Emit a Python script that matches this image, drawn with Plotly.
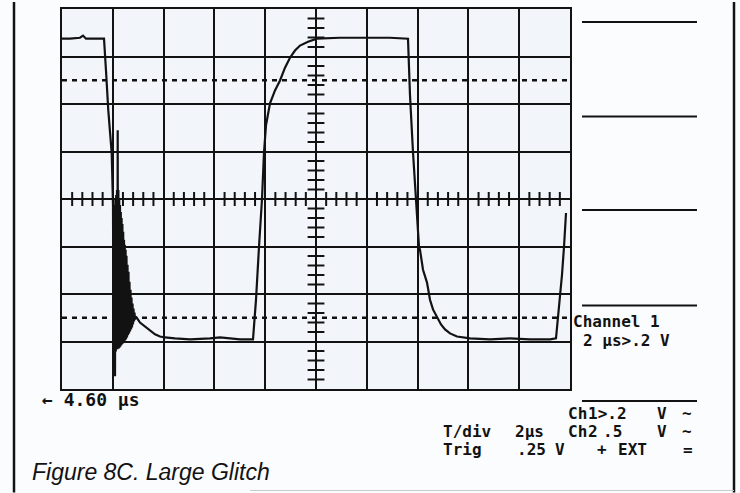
import plotly.graph_objects as go

# Scope capture: 2 us/div horizontally, 0.2 V/div vertically, 10 x 8 divisions.
# Time is measured from the left edge of the screen (which sits 4.60 us after trigger).
time_us = [
    # high level, then the falling edge
    0.000, 0.315, 0.709, 0.827, 0.945, 1.300, 1.654, 1.732, 1.823, 1.957, 2.008,
    # ringing burst right after the falling edge
    2.024, 2.039, 2.055, 2.071, 2.087, 2.102, 2.118, 2.134, 2.150, 2.165,
    2.181, 2.193, 2.205, 2.220, 2.236, 2.252, 2.268, 2.283, 2.299, 2.315,
    2.331, 2.346, 2.362, 2.378, 2.394, 2.409, 2.425, 2.441, 2.457, 2.472,
    2.488, 2.504, 2.520, 2.539, 2.559, 2.579, 2.598, 2.618, 2.638, 2.657,
    2.677, 2.697, 2.717, 2.736, 2.756, 2.776, 2.795, 2.815, 2.835, 2.854,
    2.874, 2.913,
    # settling to the low level
    3.071, 3.268, 3.465, 3.661, 3.858, 4.055, 4.449, 5.039, 5.827, 6.220,
    6.614, 7.008, 7.520,
    # rising edge and high level
    7.638, 7.756, 7.835, 7.874, 7.953, 8.031, 8.189, 8.386, 8.583, 8.780,
    8.976, 9.173, 9.370, 9.685, 10.039, 10.945, 12.126, 12.913, 13.622,
    # second falling edge and low level
    13.701, 13.819, 13.937, 14.055, 14.094, 14.213, 14.370, 14.488, 14.606,
    14.764, 14.921, 15.079, 15.276, 15.551, 15.827, 16.063, 16.850, 17.638,
    18.425, 19.213, 19.449,
    # next rising edge at the right of the screen
    19.567, 19.685, 19.764, 19.843,
]

volts = [
    0.675, 0.675, 0.679, 0.688, 0.675, 0.675, 0.675, 0.541, 0.373, 0.193, -0.025,
    -0.549, -0.067, -0.612, -0.025, -0.746, -0.004, -0.642, 0.017, -0.633, 0.038,
    -0.633, 0.289, -0.625, 0.038, -0.629, 0.004, -0.625, -0.025, -0.621, -0.055,
    -0.616, -0.080, -0.612, -0.105, -0.608, -0.138, -0.604, -0.172, -0.600, -0.193,
    -0.595, -0.214, -0.591, -0.239, -0.583, -0.277, -0.574, -0.306, -0.566, -0.348,
    -0.558, -0.382, -0.549, -0.415, -0.541, -0.440, -0.528, -0.461, -0.516, -0.478,
    -0.507, -0.495,
    -0.520, -0.537, -0.553, -0.570, -0.579, -0.583, -0.587, -0.591, -0.587, -0.583,
    -0.587, -0.591, -0.591,
    -0.424, -0.201, -0.088, 0.000, 0.197, 0.310, 0.403, 0.457, 0.499, 0.553,
    0.595, 0.625, 0.646, 0.662, 0.675, 0.679, 0.679, 0.679, 0.675,
    0.436, 0.197, 0.000, -0.201, -0.214, -0.298, -0.352, -0.424, -0.465,
    -0.499, -0.528, -0.549, -0.566, -0.579, -0.585, -0.587, -0.591, -0.587,
    -0.591, -0.591, -0.587,
    -0.465, -0.319, -0.201, -0.059,
]

# Cursor / reference levels drawn as dotted lines
cursor_levels_v = [0.5, -0.5]

# Readout text
channel_label = "Channel 1"
channel_scale = "2 µs>.2 V"
offset_label = "← 4.60 µs"
readout_rows = [
    ["Ch", "1>.2", "V", "~"],
    ["T/div", "2µs", "Ch", "2", ".5", "V", "~"],
    ["Trig", ".25", "V", "+", "EXT", "="],
]
caption = "Figure 8C. Large Glitch"

T_DIV, V_DIV = 2.0, 0.2
X_RANGE = [0, 20]
Y_RANGE = [-0.8, 0.8]

INK = "#121212"
MONO = "DejaVu Sans Mono"

fig = go.Figure()

# Dotted reference levels
for lvl in cursor_levels_v:
    fig.add_trace(go.Scatter(
        x=X_RANGE, y=[lvl, lvl], mode="lines",
        line=dict(color=INK, width=2.5, dash="5px,5px"),
        hoverinfo="skip", showlegend=False,
    ))

# Fine graticule ticks along the centre axes (5 per division)
h_ticks = [i * T_DIV / 5 for i in range(1, 50) if i % 5]
v_ticks = [-0.8 + i * V_DIV / 5 for i in range(1, 40) if i % 5]
fig.add_trace(go.Scatter(
    x=h_ticks, y=[0] * len(h_ticks), mode="markers",
    marker=dict(symbol="line-ns", size=10, line=dict(width=2, color=INK)),
    hoverinfo="skip", showlegend=False,
))
fig.add_trace(go.Scatter(
    x=[10] * len(v_ticks), y=v_ticks, mode="markers",
    marker=dict(symbol="line-ew", size=12, line=dict(width=2, color=INK)),
    hoverinfo="skip", showlegend=False,
))

# The captured waveform
fig.add_trace(go.Scatter(
    x=time_us, y=volts, mode="lines",
    line=dict(color=INK, width=2.2),
    showlegend=False,
))

axis_common = dict(
    showgrid=True, gridcolor=INK, gridwidth=2,
    showline=True, linecolor=INK, linewidth=2, mirror=True,
    zeroline=False, showticklabels=False, ticks="",
    fixedrange=True,
)
fig.update_xaxes(range=X_RANGE, dtick=T_DIV, tick0=0, **axis_common)
fig.update_yaxes(range=Y_RANGE, dtick=V_DIV, tick0=-0.8, **axis_common)

# Plot area spans x 62..570 px, y 7..389 px of the 740x493 page
L, R, T, B = 62, 170, 7, 104
W, H = 740, 493
PW, PH = W - L - R, H - T - B


def px(xp):
    return (xp - L) / PW


def py(yp):
    return (H - B - yp) / PH


shapes = []
# Short rules to the right of the screen
for y in (20, 115, 209, 305, 401):
    shapes.append(dict(type="line", xref="paper", yref="paper",
                       x0=px(582), x1=px(697), y0=py(y), y1=py(y),
                       line=dict(color=INK, width=2)))
# Frame lines at the left and right
for x in (14, 734):
    shapes.append(dict(type="line", xref="paper", yref="paper",
                       x0=px(x), x1=px(x), y0=py(0), y1=py(493),
                       line=dict(color=INK, width=2.5)))
shapes.append(dict(type="line", xref="paper", yref="paper",
                   x0=px(250), x1=px(734), y0=py(491), y1=py(491),
                   line=dict(color="#c9c9c9", width=1)))

mono = dict(family=MONO, size=16, color=INK)
annotations = [
    dict(text=f"<b>{channel_label}</b>", x=px(571), y=py(321), font=mono),
    dict(text=f"<b>{channel_scale}</b>", x=px(581), y=py(340), font=mono),
    dict(text=f"<b>{offset_label}</b>", x=px(40), y=py(400),
         font=dict(family=MONO, size=18, color=INK)),
]
# Readout block: each word set in its column
row_y = [414, 432, 450]
row_x = [
    [566, 586, 655, 680],
    [441, 513, 566, 586, 601, 655, 680],
    [441, 515, 553, 595, 616, 681],
]
for words, xs, y in zip(readout_rows, row_x, row_y):
    for word, x in zip(words, xs):
        annotations.append(dict(text=f"<b>{word}</b>", x=px(x), y=py(y), font=mono))
annotations.append(dict(text=f"<i>{caption}</i>", x=px(30), y=py(472),
                        font=dict(family="Liberation Sans", size=23, color=INK)))
for a in annotations:
    a.update(xref="paper", yref="paper", xanchor="left", yanchor="middle",
             showarrow=False)

fig.update_layout(
    width=W, height=H, autosize=False,
    margin=dict(l=L, r=R, t=T, b=B, pad=0),
    paper_bgcolor="#fbfcfd", plot_bgcolor="#f2f5f9",
    shapes=shapes, annotations=annotations,
    showlegend=False,
)

fig.write_html("out.html", config={"displayModeBar": False})
